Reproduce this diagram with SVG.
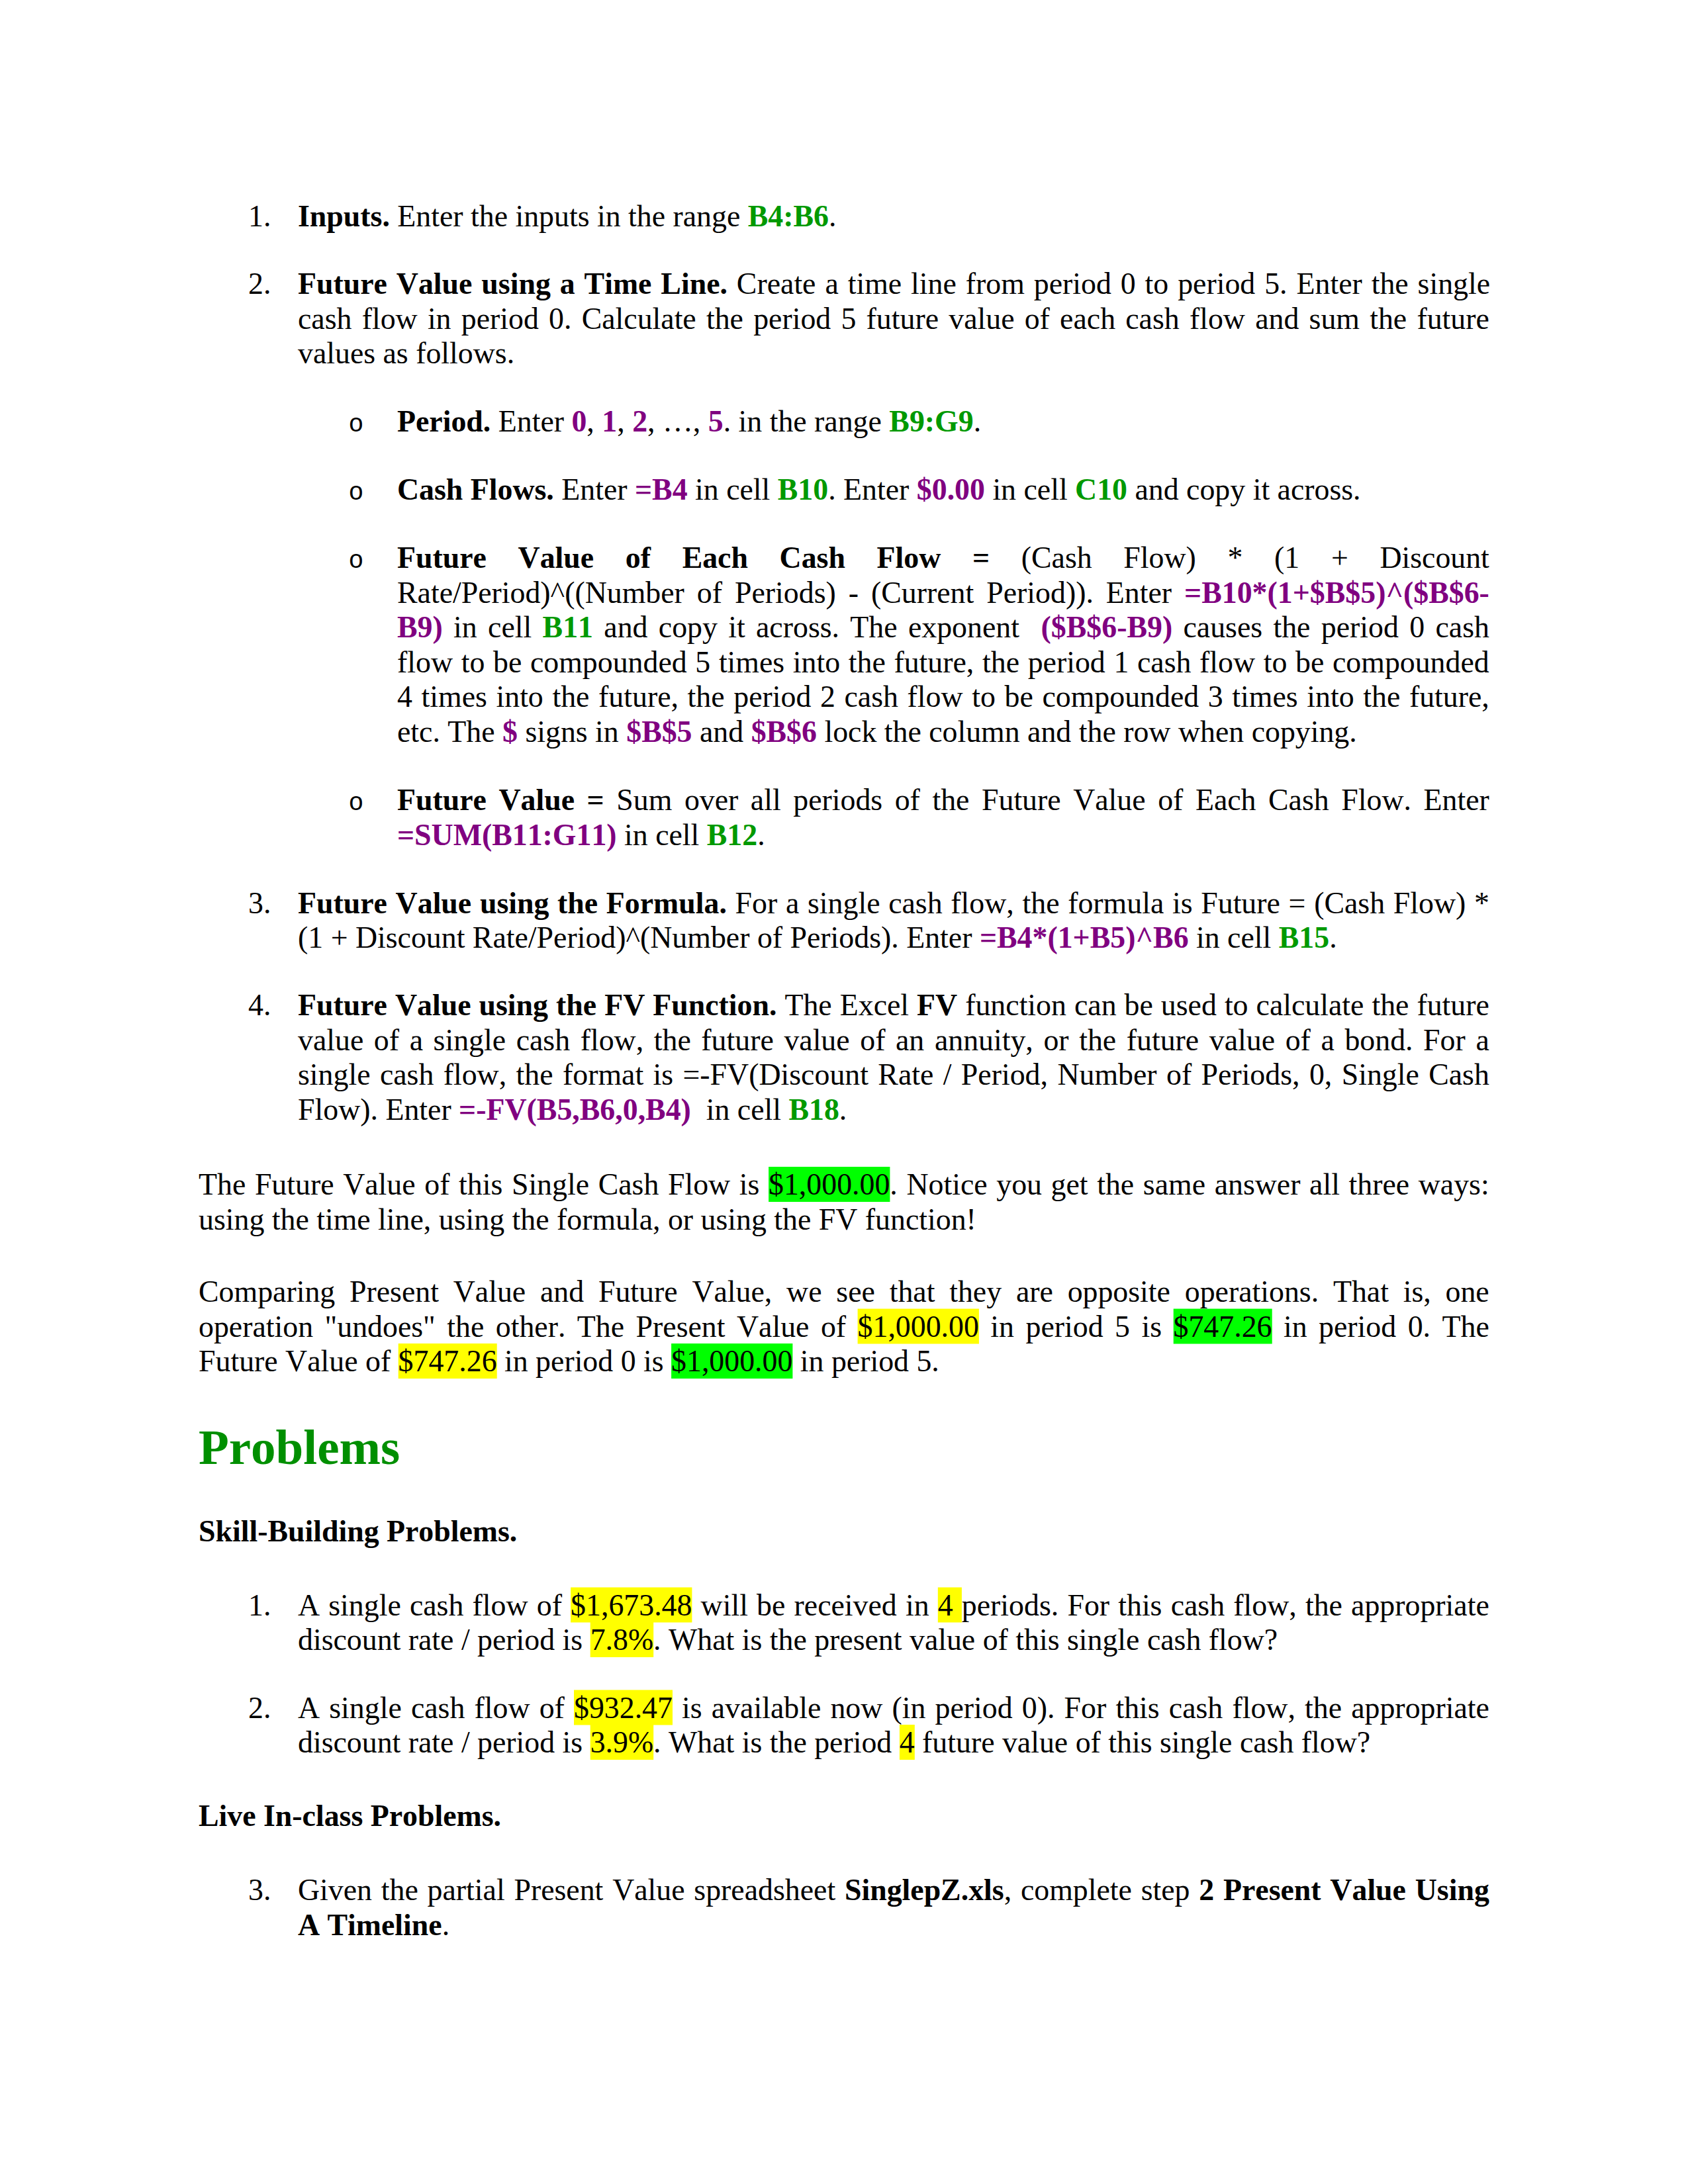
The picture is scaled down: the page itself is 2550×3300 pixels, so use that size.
<svg xmlns="http://www.w3.org/2000/svg" width="2550" height="3300" viewBox="0 0 2550 3300" xml:space="preserve">
<style>
text{white-space:pre;font-kerning:none;font-variant-ligatures:none;font-feature-settings:"kern" 0,"liga" 0,"clig" 0}
.t{font-family:"Liberation Serif","Times New Roman",serif;font-size:45.83px;fill:#000}
.b{font-weight:bold}
.g{font-weight:bold;fill:#009900}
.p{font-weight:bold;fill:#800080}
.bul{font-family:"Liberation Mono","Courier New",monospace;font-size:38px;fill:#000}
.hd{font-family:"Liberation Serif","Times New Roman",serif;font-size:75px;font-weight:bold;fill:#008f00}
.hy{fill:#ffff00}
.hg{fill:#00ff00}
</style>
<rect x="0" y="0" width="2550" height="3300" fill="#ffffff"/>
<g id="highlights">
<rect class="hg" x="1161.1" y="1763" width="183.3" height="53"/>
<rect class="hy" x="1295.6" y="1977.5" width="183.3" height="53"/>
<rect class="hg" x="1772.7" y="1977.5" width="149" height="53"/>
<rect class="hy" x="601.7" y="2030" width="149" height="53"/>
<rect class="hg" x="1014.1" y="2030" width="183.3" height="53"/>
<rect class="hy" x="862.1" y="2398.5" width="183.3" height="53"/>
<rect class="hy" x="1416.8" y="2398.5" width="36.1" height="53"/>
<rect class="hy" x="891.7" y="2451" width="95.5" height="53"/>
<rect class="hy" x="867" y="2553.5" width="149" height="53"/>
<rect class="hy" x="891.7" y="2606" width="95.5" height="53"/>
<rect class="hy" x="1358.9" y="2606" width="22.9" height="53"/>
</g>
<g id="item1">
<text class="t" x="375" y="341.5">1.</text>
<text class="t" x="450" y="341.5"><tspan class="b">Inputs.</tspan> Enter the inputs in the range <tspan class="g">B4:B6</tspan>.</text>
</g>
<g id="item2">
<text class="t" x="375" y="443.5">2.</text>
<text class="t" x="450" y="443.5" style="word-spacing:2.48px"><tspan class="b">Future Value using a Time Line.</tspan> Create a time line from period 0 to period 5. Enter the single</text>
<text class="t" x="450" y="496.5" style="word-spacing:3.77px">cash flow in period 0. Calculate the period 5 future value of each cash flow and sum the future</text>
<text class="t" x="450" y="549">values as follows.</text>
</g>
<g id="bullet-period">
<text class="bul" x="526.5" y="651.5">o</text>
<text class="t" x="600" y="651.5"><tspan class="b">Period.</tspan> Enter <tspan class="p">0</tspan>, <tspan class="p">1</tspan>, <tspan class="p">2</tspan>, …, <tspan class="p">5</tspan>. in the range <tspan class="g">B9:G9</tspan>.</text>
</g>
<g id="bullet-cashflows">
<text class="bul" x="526.5" y="754.5">o</text>
<text class="t" x="600" y="754.5"><tspan class="b">Cash Flows.</tspan> Enter <tspan class="p">=B4</tspan> in cell <tspan class="g">B10</tspan>. Enter <tspan class="p">$0.00</tspan> in cell <tspan class="g">C10</tspan> and copy it across.</text>
</g>
<g id="bullet-fveach">
<text class="bul" x="526.5" y="858">o</text>
<text class="t" x="600" y="858" style="word-spacing:36.2px"><tspan class="b">Future Value of Each Cash Flow =</tspan> (Cash Flow) * (1 + Discount</text>
<text class="t" x="600" y="910.5" style="word-spacing:7.54px">Rate/Period)^((Number of Periods) - (Current Period)). Enter <tspan class="p">=B10*(1+$B$5)^($B$6-</tspan></text>
<text class="t" x="600" y="963" style="word-spacing:4.88px"><tspan class="p">B9)</tspan> in cell <tspan class="g">B11</tspan> and copy it across. The exponent  <tspan class="p">($B$6-B9)</tspan> causes the period 0 cash</text>
<text class="t" x="600" y="1015.5" style="word-spacing:1.21px">flow to be compounded 5 times into the future, the period 1 cash flow to be compounded</text>
<text class="t" x="600" y="1068" style="word-spacing:2.19px">4 times into the future, the period 2 cash flow to be compounded 3 times into the future,</text>
<text class="t" x="600" y="1120.5">etc. The <tspan class="p">$</tspan> signs in <tspan class="p">$B$5</tspan> and <tspan class="p">$B$6</tspan> lock the column and the row when copying.</text>
</g>
<g id="bullet-fv">
<text class="bul" x="526.5" y="1224">o</text>
<text class="t" x="600" y="1224" style="word-spacing:7.1px"><tspan class="b">Future Value =</tspan> Sum over all periods of the Future Value of Each Cash Flow. Enter</text>
<text class="t" x="600" y="1276.5"><tspan class="p">=SUM(B11:G11)</tspan> in cell <tspan class="g">B12</tspan>.</text>
</g>
<g id="item3">
<text class="t" x="375" y="1379.5">3.</text>
<text class="t" x="450" y="1379.5" style="word-spacing:1.25px"><tspan class="b">Future Value using the Formula.</tspan> For a single cash flow, the formula is Future = (Cash Flow) *</text>
<text class="t" x="450" y="1432">(1 + Discount Rate/Period)^(Number of Periods). Enter <tspan class="p">=B4*(1+B5)^B6</tspan> in cell <tspan class="g">B15</tspan>.</text>
</g>
<g id="item4">
<text class="t" x="375" y="1534">4.</text>
<text class="t" x="450" y="1534" style="word-spacing:0.57px"><tspan class="b">Future Value using the FV Function.</tspan> The Excel <tspan class="b">FV</tspan> function can be used to calculate the future</text>
<text class="t" x="450" y="1586.5" style="word-spacing:4.15px">value of a single cash flow, the future value of an annuity, or the future value of a bond. For a</text>
<text class="t" x="450" y="1639" style="word-spacing:2.95px">single cash flow, the format is =-FV(Discount Rate / Period, Number of Periods, 0, Single Cash</text>
<text class="t" x="450" y="1691.5">Flow). Enter <tspan class="p">=-FV(B5,B6,0,B4)</tspan>  in cell <tspan class="g">B18</tspan>.</text>
</g>
<g id="para-fv">
<text class="t" x="300" y="1805" style="word-spacing:2.18px">The Future Value of this Single Cash Flow is $1,000.00. Notice you get the same answer all three ways:</text>
<text class="t" x="300" y="1857.5">using the time line, using the formula, or using the FV function!</text>
</g>
<g id="para-compare">
<text class="t" x="300" y="1967" style="word-spacing:10.35px">Comparing Present Value and Future Value, we see that they are opposite operations. That is, one</text>
<text class="t" x="300" y="2019.5" style="word-spacing:6.03px">operation "undoes" the other. The Present Value of $1,000.00 in period 5 is $747.26 in period 0. The</text>
<text class="t" x="300" y="2072">Future Value of $747.26 in period 0 is $1,000.00 in period 5.</text>
</g>
<g id="heading">
<text class="hd" x="300" y="2212">Problems</text>
</g>
<g id="skill">
<text class="t b" x="300" y="2329">Skill-Building Problems.</text>
</g>
<g id="prob1">
<text class="t" x="375" y="2440.5">1.</text>
<text class="t" x="450" y="2440.5" style="word-spacing:1.73px">A single cash flow of $1,673.48 will be received in 4 periods. For this cash flow, the appropriate</text>
<text class="t" x="450" y="2493">discount rate / period is 7.8%. What is the present value of this single cash flow?</text>
</g>
<g id="prob2">
<text class="t" x="375" y="2595.5">2.</text>
<text class="t" x="450" y="2595.5" style="word-spacing:2.71px">A single cash flow of $932.47 is available now (in period 0). For this cash flow, the appropriate</text>
<text class="t" x="450" y="2648">discount rate / period is 3.9%. What is the period 4 future value of this single cash flow?</text>
</g>
<g id="live">
<text class="t b" x="300" y="2759">Live In-class Problems.</text>
</g>
<g id="prob3">
<text class="t" x="375" y="2871">3.</text>
<text class="t" x="450" y="2871" style="word-spacing:2.34px">Given the partial Present Value spreadsheet <tspan class="b">SinglepZ.xls</tspan>, complete step <tspan class="b">2 Present Value Using</tspan></text>
<text class="t" x="450" y="2923.5"><tspan class="b">A Timeline</tspan>.</text>
</g>
<g id="connectors"></g>
</svg>
